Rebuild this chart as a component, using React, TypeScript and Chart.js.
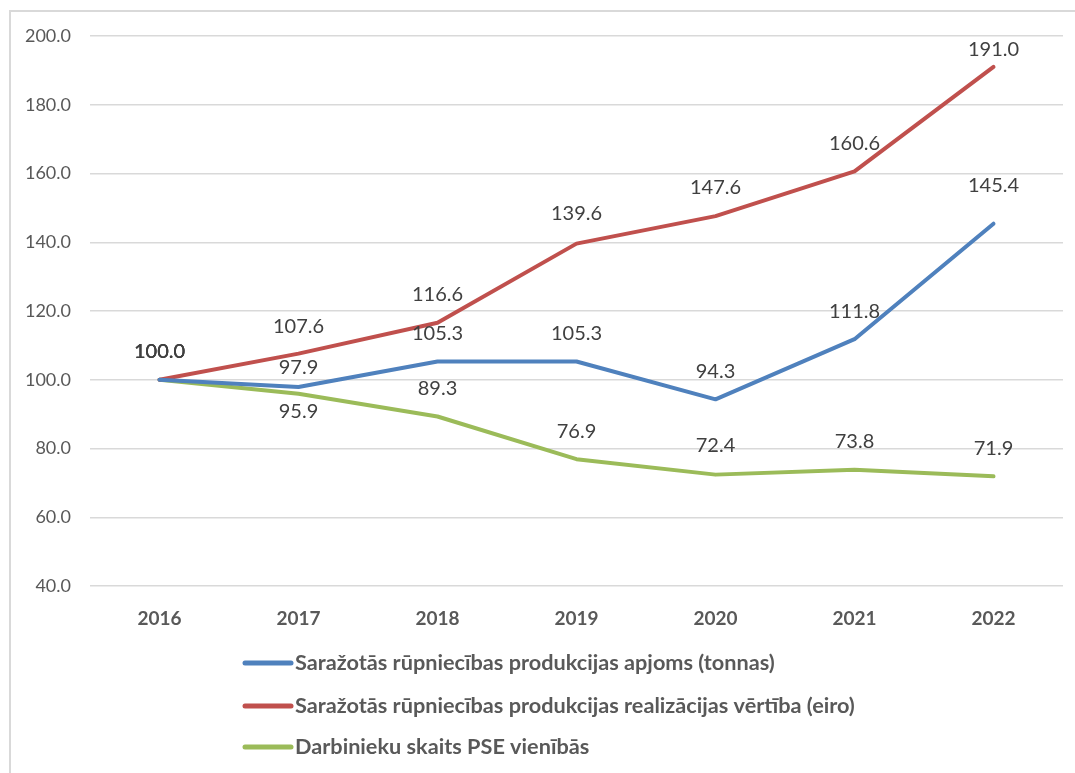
import React, { useEffect, useRef } from "react";
import { Chart, registerables } from "chart.js";

Chart.register(...registerables);

const years = ["2016", "2017", "2018", "2019", "2020", "2021", "2022"];
const volumeTons = [100.0, 97.9, 105.3, 105.3, 94.3, 111.8, 145.4];
const salesValueEur = [100.0, 107.6, 116.6, 139.6, 147.6, 160.6, 191.0];
const employeesFte = [100.0, 95.9, 89.3, 76.9, 72.4, 73.8, 71.9];
const seriesNames = [
  "Saražotās rūpniecības produkcijas apjoms (tonnas)",
  "Saražotās rūpniecības produkcijas realizācijas vērtība (eiro)",
  "Darbinieku skaits PSE vienībās",
];
const yTicksMin = 40;
const yTicksMax = 200;
const yTicksStep = 20;

const COLORS = ["#4F81BD", "#C0504D", "#9BBB59"];
const FONT = "Lato, 'Open Sans', 'Noto Sans', sans-serif";

// label vertical offsets (px) per dataset per point (styling only)
const labelOffsets: number[][] = [
  [-28, -19, -28, -28, -28, -28, -38],
  [-28, -27, -28, -30, -29, -28, -17],
  [-28, 18, -28, -28, -29, -28, -28],
];

const dataLabelPlugin = {
  id: "dataLabels",
  afterDatasetsDraw(chart: any) {
    const ctx = chart.ctx;
    ctx.save();
    ctx.font = `20px ${FONT}`;
    ctx.fillStyle = "#404040";
    ctx.textAlign = "center";
    ctx.textBaseline = "middle";
    chart.data.datasets.forEach((ds: any, di: number) => {
      const meta = chart.getDatasetMeta(di);
      meta.data.forEach((pt: any, i: number) => {
        const v = ds.data[i] as number;
        ctx.fillText(v.toFixed(1), pt.x, pt.y + labelOffsets[di][i]);
      });
    });
    ctx.restore();
  },
};

const legendPlugin = {
  id: "customLegend",
  afterDraw(chart: any) {
    const ctx = chart.ctx;
    const ys = [663, 706, 747];
    chart.data.datasets.forEach((ds: any, di: number) => {
      const y = ys[di];
      ctx.save();
      ctx.strokeStyle = ds.borderColor;
      ctx.lineWidth = 5;
      ctx.lineCap = "round";
      ctx.beginPath();
      ctx.moveTo(245, y);
      ctx.lineTo(291, y);
      ctx.stroke();
      ctx.font = `bold 21.7px ${FONT}`;
      ctx.fillStyle = "#595959";
      ctx.textAlign = "left";
      ctx.textBaseline = "middle";
      ctx.fillText(ds.label, 295, y);
      ctx.restore();
    });
  },
};

function ChartView() {
  const ref = useRef<HTMLCanvasElement | null>(null);
  useEffect(() => {
    if (!ref.current) return;
    const chart = new Chart(ref.current, {
      type: "line",
      data: {
        labels: years,
        datasets: [
          { label: seriesNames[0], data: volumeTons, borderColor: COLORS[0], backgroundColor: COLORS[0] },
          { label: seriesNames[1], data: salesValueEur, borderColor: COLORS[1], backgroundColor: COLORS[1] },
          { label: seriesNames[2], data: employeesFte, borderColor: COLORS[2], backgroundColor: COLORS[2] },
        ].map((d) => ({
          ...d,
          borderWidth: 4,
          pointRadius: 0,
          pointHoverRadius: 0,
          tension: 0,
          borderCapStyle: "round" as const,
          borderJoinStyle: "round" as const,
        })),
      },
      options: {
        responsive: false,
        animation: false,
        layout: { padding: { top: 36, left: 0, right: 12, bottom: 127 } },
        plugins: {
          legend: { display: false },
          tooltip: { enabled: false },
          title: { display: false },
        },
        scales: {
          x: {
            offset: true,
            grid: { display: false, drawTicks: false },
            border: { display: false },
            ticks: {
              padding: 21,
              color: "#595959",
              font: { family: FONT, size: 19, weight: "bold" },
            },
            afterFit: (s: any) => {
              s.height = 60;
            },
          },
          y: {
            min: yTicksMin,
            max: yTicksMax,
            grid: { color: "#d9d9d9", lineWidth: 1.5, drawTicks: false },
            border: { display: false },
            ticks: {
              stepSize: yTicksStep,
              padding: 19,
              color: "#595959",
              font: { family: FONT, size: 18 },
              callback: (v: any) => Number(v).toFixed(1),
            },
            afterFit: (s: any) => {
              s.width = 90;
            },
          },
        },
      },
      plugins: [dataLabelPlugin, legendPlugin],
    });
    return () => chart.destroy();
  }, []);
  return <canvas ref={ref} width={1075} height={773} style={{ position: "absolute", left: 0, top: 0 }} />;
}

export default function App() {
  return (
    <div style={{ position: "fixed", left: 0, top: 0, width: 1075, height: 773, background: "#fff", overflow: "hidden" }}>
      <div
        style={{
          position: "absolute",
          left: 9,
          top: 10,
          width: 1100,
          height: 800,
          borderLeft: "2px solid #d9d9d9",
          borderTop: "2px solid #d9d9d9",
        }}
      />
      <ChartView />
    </div>
  );
}
